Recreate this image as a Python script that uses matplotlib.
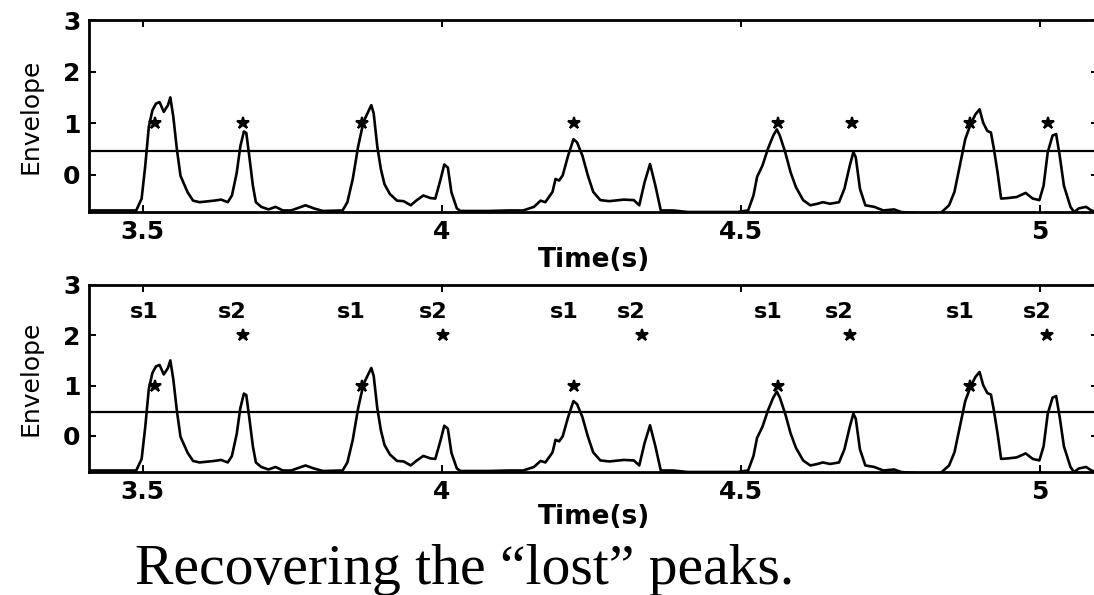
import matplotlib.pyplot as plt

# envelope trace (time in s, normalised envelope)
time_s = [3.404, 3.489, 3.498, 3.504, 3.510, 3.516, 3.522, 3.528, 3.535, 3.542,
          3.546, 3.551, 3.557, 3.563, 3.569, 3.575, 3.584, 3.595, 3.619, 3.631,
          3.642, 3.649, 3.657, 3.663, 3.669, 3.673, 3.678, 3.684, 3.689, 3.698,
          3.710, 3.722, 3.734, 3.748, 3.772, 3.786, 3.801, 3.834, 3.842, 3.851,
          3.860, 3.869, 3.878, 3.882, 3.886, 3.892, 3.898, 3.904, 3.913, 3.925,
          3.936, 3.948, 3.957, 3.969, 3.981, 3.989, 3.998, 4.004, 4.010, 4.016,
          4.025, 4.031, 4.078, 4.113, 4.136, 4.154, 4.165, 4.173, 4.185, 4.190,
          4.196, 4.202, 4.211, 4.220, 4.226, 4.235, 4.244, 4.253, 4.265, 4.280,
          4.304, 4.321, 4.330, 4.339, 4.348, 4.357, 4.366, 4.387, 4.411, 4.458,
          4.494, 4.512, 4.521, 4.527, 4.536, 4.545, 4.554, 4.560, 4.565, 4.574,
          4.583, 4.592, 4.604, 4.616, 4.628, 4.637, 4.649, 4.664, 4.673, 4.682,
          4.688, 4.692, 4.699, 4.708, 4.723, 4.738, 4.756, 4.768, 4.798, 4.815,
          4.833, 4.848, 4.857, 4.866, 4.875, 4.884, 4.892, 4.899, 4.905, 4.912,
          4.918, 4.923, 4.929, 4.935, 4.946, 4.961, 4.976, 4.988, 4.999, 5.006,
          5.013, 5.021, 5.027, 5.033, 5.040, 5.051, 5.057, 5.065, 5.077, 5.086,
          5.094]
envelope = [-0.69, -0.69, -0.46, 0.17, 0.93, 1.25, 1.38, 1.41, 1.22, 1.35,
            1.50, 1.12, 0.49, -0.02, -0.18, -0.34, -0.50, -0.53, -0.50, -0.48,
            -0.53, -0.40, 0.04, 0.55, 0.84, 0.81, 0.36, -0.21, -0.53, -0.62,
            -0.67, -0.62, -0.69, -0.69, -0.59, -0.65, -0.70, -0.69, -0.53, -0.08,
            0.55, 1.03, 1.25, 1.35, 1.19, 0.55, 0.11, -0.18, -0.37, -0.50,
            -0.51, -0.59, -0.50, -0.40, -0.45, -0.46, -0.08, 0.20, 0.14, -0.34,
            -0.65, -0.70, -0.70, -0.69, -0.69, -0.62, -0.50, -0.53, -0.33, -0.08,
            -0.11, -0.01, 0.37, 0.69, 0.63, 0.37, -0.01, -0.33, -0.49, -0.51,
            -0.48, -0.49, -0.59, -0.14, 0.21, -0.21, -0.69, -0.69, -0.72, -0.72,
            -0.72, -0.69, -0.40, -0.04, 0.18, 0.50, 0.76, 0.88, 0.76, 0.44,
            0.05, -0.24, -0.49, -0.59, -0.56, -0.53, -0.56, -0.53, -0.27, 0.18,
            0.44, 0.34, -0.27, -0.59, -0.62, -0.69, -0.67, -0.72, -0.75, -0.78,
            -0.75, -0.59, -0.33, 0.18, 0.69, 0.98, 1.17, 1.27, 1.01, 0.85,
            0.82, 0.50, 0.05, -0.46, -0.45, -0.43, -0.35, -0.46, -0.49, -0.21,
            0.44, 0.76, 0.79, 0.37, -0.21, -0.62, -0.72, -0.65, -0.62, -0.69,
            -0.72]

threshold = 0.47

# peaks found above the threshold
peak_times = [3.52, 3.667, 3.866, 4.221, 4.562, 4.686, 4.883, 5.013]
peak_level = 1

# recovered s1 / s2 sequence
s1_times = [3.52, 3.866, 4.221, 4.562, 4.883]
s2_times = [3.667, 4.002, 4.334, 4.682, 5.012]
s1_level = 1
s2_level = 2
label_level = 2.47

xticks = [3.5, 4, 4.5, 5]
xticklabels = ['3.5', '4', '4.5', '5']
yticks = [0, 1, 2, 3]

W, H = 1094, 595
fig = plt.figure(figsize=(W / 100, H / 100), dpi=100)
ax1 = fig.add_axes([89 / W, 1 - 212 / H, 1009 / W, 192 / H])
ax2 = fig.add_axes([89 / W, 1 - 472 / H, 1009 / W, 187 / H])

star = dict(linestyle='none', marker='*', markersize=9, color='black', mew=1.5)


def envelope_axes(ax):
    ax.plot(time_s, envelope, color='black', lw=1.9)
    ax.axhline(threshold, color='black', lw=1.6)
    ax.set_xlim(3.41, 5.097)
    ax.set_ylim(-0.72, 3)
    ax.set_xticks(xticks)
    ax.set_xticklabels(xticklabels)
    ax.set_yticks(yticks)
    ax.tick_params(direction='in', length=5, width=1.4, top=True, right=True,
                   labelsize=18, pad=6)
    for lab in ax.get_xticklabels() + ax.get_yticklabels():
        lab.set_fontweight('bold')
    for sp in ax.spines.values():
        sp.set_linewidth(2)
    ax.set_xlabel('Time(s)', fontsize=19, fontweight='bold', labelpad=2)
    ax.set_ylabel('Envelope', fontsize=18, labelpad=15)


envelope_axes(ax1)
ax1.plot(peak_times, [peak_level] * len(peak_times), **star)

envelope_axes(ax2)
ax2.plot(s1_times, [s1_level] * len(s1_times), **star)
ax2.plot(s2_times, [s2_level] * len(s2_times), **star)
for t in s1_times:
    ax2.text(t - 0.017, label_level, 's1', ha='center', va='center',
             fontsize=16, fontweight='bold')
for t in s2_times:
    ax2.text(t - 0.017, label_level, 's2', ha='center', va='center',
             fontsize=16, fontweight='bold')
ax2.xaxis.labelpad = 0

fig.text(135 / W, 1 - 570 / H, 'Recovering the \u201clost\u201d peaks.',
         family='Liberation Serif', fontsize=41.5, ha='left', va='center')

fig.savefig('out.png', dpi=100)
